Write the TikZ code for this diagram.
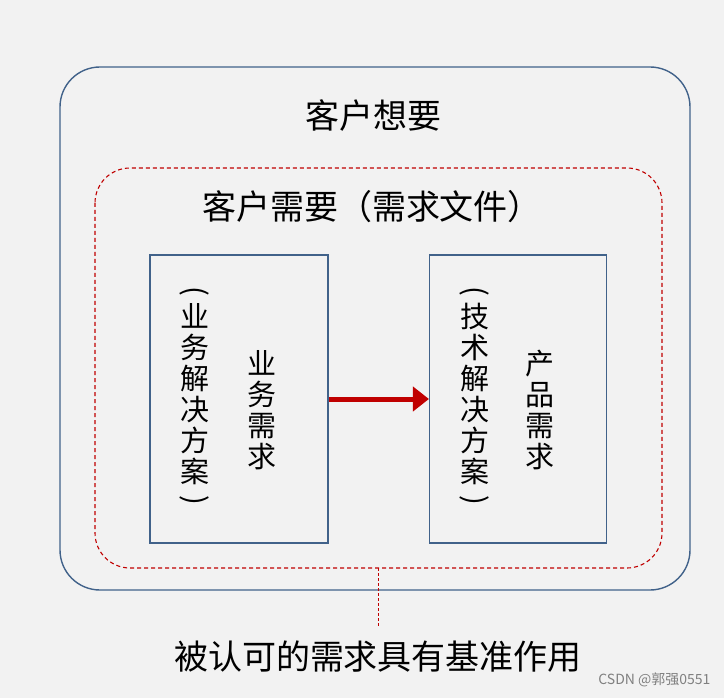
\documentclass[tikz,border=0pt]{standalone}
\usepackage{fontspec}
\setmainfont{Noto Sans CJK SC}
\usepackage{graphicx}
\usetikzlibrary{arrows.meta}
\definecolor{steel}{HTML}{41628A}
\definecolor{dred}{HTML}{C00000}
\begin{document}
\begin{tikzpicture}[x=1pt,y=-1pt,
  box/.style={draw=steel,line width=1.1pt},
  vt/.style={font=\fontsize{29}{31}\selectfont,align=center,inner sep=0pt},
  big/.style={font=\fontsize{34}{36}\selectfont}]
\fill[gray!10] (0,0) rectangle (724,698);
\useasboundingbox (0,0) rectangle (724,698);
\draw[steel,line width=1.4pt,rounded corners=40pt] (60,67) rectangle (690,590);
\node[big] (t1) at (373,116) {客户想要};
\draw[dred,dash pattern=on 4pt off 3pt,line width=1.1pt,rounded corners=35pt] (95,168) rectangle (662,568);
\node[big] (t2) at (372,207) {客户需要（需求文件）};
\node[box,minimum width=178pt,minimum height=288pt] (L) at (239,399) {};
\node[box,minimum width=177pt,minimum height=288pt] (R) at (518,399) {};
\node[vt] (l1) at (195,398) {\rotatebox[origin=c]{-90}{(}\\[-4pt]业\\务\\解\\决\\方\\案\\[-4pt]\rotatebox[origin=c]{-90}{)}};
\node[vt] (l2) at (262,410) {业\\务\\需\\求};
\node[vt] (r1) at (475,398) {\rotatebox[origin=c]{-90}{(}\\[-4pt]技\\术\\解\\决\\方\\案\\[-4pt]\rotatebox[origin=c]{-90}{)}};
\node[vt] (r2) at (540,410) {产\\品\\需\\求};
\draw[dred,line width=5pt,-{Triangle[length=16pt,width=24pt]}] (L.east) -- (R.west);
\coordinate (d1) at (378,568);
\node[big] (t3) at (378,657) {被认可的需求具有基准作用};
\draw[dred,dash pattern=on 3pt off 2pt,line width=0.5pt] (d1) -- (378,626);
\node[font=\fontsize{14}{15}\selectfont,text=gray,anchor=east] (wm) at (714,680) {CSDN @郭强0551};
\end{tikzpicture}
\end{document}
